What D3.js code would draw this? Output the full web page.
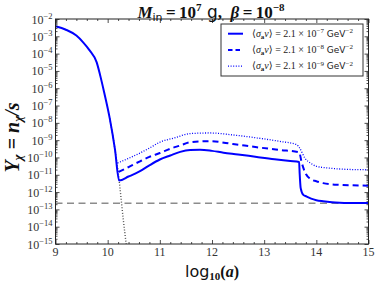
<!DOCTYPE html>
<html>
<head>
<meta charset="utf-8">
<script src="https://cdn.jsdelivr.net/npm/d3@7"></script>
<style>
  body { margin: 0; background: #fff; }
  svg { display: block; }
</style>
</head>
<body>
<div id="chart"></div>
<script>
// DATA
const xTicks = [9, 10, 11, 12, 13, 14, 15];
const yTickExps = [-2, -3, -4, -5, -6, -7, -8, -9, -10, -11, -12, -13, -14, -15];

// <sigma v> = 2.1e-7 (solid, includes the common early decline)
const solidX = [9.0, 9.2, 9.4, 9.53, 9.65, 9.79, 9.86, 9.93, 10.04, 10.14, 10.22, 10.4, 10.62, 10.8, 11.0, 11.2, 11.39, 11.58, 11.77, 12.0, 12.22, 12.5, 12.86, 13.2, 13.5, 13.67, 13.68, 13.70, 13.75, 13.81, 13.9, 14.0, 14.13, 14.3, 14.45, 14.7, 15.0];
const solidY = [3.8e-3, 2.4e-3, 1.1e-3, 4.5e-4, 1.6e-4, 3.1e-5, 5.0e-6, 6.3e-7, 1.8e-8, 2.9e-10, 4.7e-12, 7.9e-12, 1.6e-11, 3.5e-11, 7.6e-11, 1.3e-10, 2.1e-10, 2.7e-10, 2.8e-10, 2.4e-10, 1.9e-10, 1.5e-10, 1.07e-10, 7.9e-11, 6.3e-11, 5.5e-11, 1.26e-11, 1.7e-12, 6.9e-13, 5.6e-13, 4.2e-13, 3.4e-13, 2.95e-13, 2.6e-13, 2.45e-13, 2.35e-13, 2.3e-13];

// <sigma v> = 2.1e-8 (dashed)
const dashedX = [10.21, 10.4, 10.62, 10.8, 11.0, 11.2, 11.39, 11.58, 11.96, 12.4, 12.86, 13.3, 13.67, 13.72, 13.8, 13.88, 14.0, 14.13, 14.45, 14.7, 15.0];
const dashedY = [1.45e-11, 2.8e-11, 6.0e-11, 1.07e-10, 1.8e-10, 3.2e-10, 4.9e-10, 7.6e-10, 8.7e-10, 6.0e-10, 3.9e-10, 2.7e-10, 2.0e-10, 5.0e-11, 1.1e-11, 5.9e-12, 4.2e-12, 3.3e-12, 2.6e-12, 2.45e-12, 2.35e-12];

// <sigma v> = 2.1e-9 (dotted)
const dottedX = [10.19, 10.4, 10.62, 10.8, 11.0, 11.3, 11.58, 11.96, 12.4, 12.86, 13.3, 13.62, 13.68, 13.78, 13.9, 14.0, 14.2, 14.45, 14.7, 15.0];
const dottedY = [4.8e-11, 8.9e-11, 1.8e-10, 3.5e-10, 7.6e-10, 1.4e-9, 2.4e-9, 2.6e-9, 2.0e-9, 1.35e-9, 8.5e-10, 5.6e-10, 3.5e-10, 9.3e-11, 4.5e-11, 3.1e-11, 2.5e-11, 2.15e-11, 2.0e-11, 1.95e-11];

// equilibrium (gray dotted)
const eqX = [10.04, 10.14, 10.22, 10.26, 10.30, 10.355];
const eqY = [1.8e-8, 2.9e-10, 4.7e-12, 3.5e-13, 2.5e-14, 1.0e-15];

// horizontal reference level (gray dashed)
const refLevel = 2.25e-13;

const legendLabels = ["\u22127", "\u22128", "\u22129"];

// LAYOUT
const width = 380, height = 283;
const mLeft = 55.5, mRight = 368.5, mTop = 19, mBottom = 244;

const svg = d3.select("#chart").append("svg")
  .attr("width", width)
  .attr("height", height);

const x = d3.scaleLinear().domain([9, 15]).range([mLeft, mRight]);
const y = d3.scaleLog().domain([1e-15, 1e-2]).range([mBottom, mTop]);

const serif = "'Liberation Serif', 'DejaVu Serif', serif";
const sans = "'DejaVu Sans', 'Liberation Sans', sans-serif";

svg.append("defs").append("clipPath").attr("id", "plot-clip")
  .append("rect")
  .attr("x", mLeft).attr("y", mTop)
  .attr("width", mRight - mLeft).attr("height", mBottom - mTop);

const plot = svg.append("g").attr("clip-path", "url(#plot-clip)");

const line = d3.line()
  .x(d => x(d[0]))
  .y(d => y(d[1]))
  .curve(d3.curveMonotoneX);

const zip = (a, b) => a.map((v, i) => [v, b[i]]);

// reference level
plot.append("line")
  .attr("x1", mLeft).attr("x2", mRight)
  .attr("y1", y(refLevel)).attr("y2", y(refLevel))
  .attr("stroke", "#8c8c8c")
  .attr("stroke-width", 1.4)
  .attr("stroke-dasharray", "7,4.5");

// equilibrium
plot.append("path")
  .attr("d", line(zip(eqX, eqY)))
  .attr("fill", "none")
  .attr("stroke", "#555")
  .attr("stroke-width", 1.4)
  .attr("stroke-dasharray", "1,1.8");

const series = [
  { xs: solidX, ys: solidY, dash: null, w: 2 },
  { xs: dashedX, ys: dashedY, dash: "6,4", w: 2 },
  { xs: dottedX, ys: dottedY, dash: "1,1.6", w: 1.3 }
];

series.forEach(s => {
  plot.append("path")
    .attr("d", line(zip(s.xs, s.ys)))
    .attr("fill", "none")
    .attr("stroke", "#0000ff")
    .attr("stroke-width", s.w)
    .attr("stroke-dasharray", s.dash);
});

// AXES (ticks pointing inward on all sides)
const yMinor = [];
d3.range(-15, -2).forEach(e => {
  for (let m = 2; m <= 9; m++) yMinor.push(m * Math.pow(10, e));
});
const xMinor = x.ticks(30).filter(v => !xTicks.includes(v));
const yMajor = yTickExps.map(e => Math.pow(10, e));

function tickAxis(axisFn, scale, values, size, transform) {
  const g = svg.append("g")
    .attr("transform", transform)
    .call(axisFn(scale).tickValues(values).tickSize(-size).tickSizeOuter(0).tickFormat(""));
  g.select(".domain").remove();
  g.selectAll(".tick line").attr("stroke", "#222").attr("stroke-width", 0.8);
  return g;
}

tickAxis(d3.axisBottom, x, xTicks, 4, `translate(0,${mBottom})`);
tickAxis(d3.axisBottom, x, xMinor, 2, `translate(0,${mBottom})`);
tickAxis(d3.axisTop, x, xTicks, 4, `translate(0,${mTop})`);
tickAxis(d3.axisTop, x, xMinor, 2, `translate(0,${mTop})`);
tickAxis(d3.axisLeft, y, yMajor, 4, `translate(${mLeft},0)`);
tickAxis(d3.axisLeft, y, yMinor, 2, `translate(${mLeft},0)`);
tickAxis(d3.axisRight, y, yMajor, 4, `translate(${mRight},0)`);
tickAxis(d3.axisRight, y, yMinor, 2, `translate(${mRight},0)`);

// frame
svg.append("rect")
  .attr("x", mLeft).attr("y", mTop)
  .attr("width", mRight - mLeft).attr("height", mBottom - mTop)
  .attr("fill", "none")
  .attr("stroke", "#222")
  .attr("stroke-width", 1);

// x tick labels
svg.append("g").selectAll("text")
  .data(xTicks)
  .enter()
  .append("text")
  .attr("x", d => x(d))
  .attr("y", mBottom + 12)
  .attr("text-anchor", "middle")
  .style("font-family", serif)
  .style("font-size", "12px")
  .style("fill", "#333")
  .text(d => d);

// y tick labels 10^k
const yLab = svg.append("g").selectAll("text")
  .data(yTickExps)
  .enter()
  .append("text")
  .attr("x", mLeft - 3)
  .attr("y", d => y(Math.pow(10, d)) + 4.5)
  .attr("text-anchor", "end")
  .style("font-family", serif)
  .style("font-size", "12px")
  .style("fill", "#333");
yLab.append("tspan").text("10");
yLab.append("tspan")
  .attr("dy", -5)
  .style("font-size", "8.5px")
  .text(d => "\u2212" + Math.abs(d));

// TITLE
const title = svg.append("text")
  .attr("x", 211)
  .attr("y", 18)
  .attr("text-anchor", "middle")
  .style("font-family", serif)
  .style("font-weight", "bold")
  .style("font-size", "17px")
  .style("fill", "#111");
title.append("tspan").style("font-style", "italic").text("M");
title.append("tspan").attr("dy", 3).style("font-family", sans).style("font-weight", "normal").style("font-size", "11px").text("in");
title.append("tspan").attr("dy", -3).text("\u2009=\u200910");
title.append("tspan").attr("dy", -7).style("font-size", "11px").text("7");
title.append("tspan").attr("dy", 7).style("font-family", sans).style("font-weight", "normal").text(" g");
title.append("tspan").text(",\u2002");
title.append("tspan").style("font-style", "italic").text("\u03b2");
title.append("tspan").text("\u2009=\u200910");
title.append("tspan").attr("dy", -7).style("font-size", "11px").text("\u22128");

// X LABEL
const xl = svg.append("text")
  .attr("x", 212)
  .attr("y", 277)
  .attr("text-anchor", "middle")
  .style("fill", "#111");
xl.append("tspan").style("font-family", sans).style("font-size", "16px").text("log");
xl.append("tspan").attr("dy", 3).style("font-family", serif).style("font-weight", "bold").style("font-size", "11px").text("10");
xl.append("tspan").attr("dy", -3).style("font-family", serif).style("font-weight", "bold").style("font-size", "16px").text("(");
xl.append("tspan").style("font-family", serif).style("font-weight", "bold").style("font-style", "italic").style("font-size", "16px").text("a");
xl.append("tspan").style("font-family", serif).style("font-weight", "bold").style("font-size", "16px").text(")");

// Y LABEL
const yl = svg.append("text")
  .attr("transform", `translate(19,${(mTop + mBottom) / 2 + 6}) rotate(-90)`)
  .attr("text-anchor", "middle")
  .style("font-family", serif)
  .style("font-weight", "bold")
  .style("font-style", "italic")
  .style("font-size", "20px")
  .style("fill", "#111");
yl.append("tspan").text("Y");
yl.append("tspan").attr("dy", 3).style("font-size", "13px").text("\u03c7");
yl.append("tspan").attr("dy", -3).style("font-style", "normal").text(" = ");
yl.append("tspan").text("n");
yl.append("tspan").attr("dy", 3).style("font-size", "13px").text("\u03c7");
yl.append("tspan").attr("dy", -3).text("/s");

// LEGEND
const legend = svg.append("g").attr("transform", "translate(221,24)");
legend.append("rect")
  .attr("width", 142)
  .attr("height", 52)
  .attr("fill", "#fff")
  .attr("stroke", "#333")
  .attr("stroke-width", 1);

const rows = legend.selectAll("g.row")
  .data(series.map((s, i) => ({ s, lab: legendLabels[i] })))
  .enter()
  .append("g")
  .attr("transform", (d, i) => `translate(0,${9.7 + i * 16.2})`);

rows.append("line")
  .attr("x1", 7).attr("x2", 22)
  .attr("stroke", "#0000ff")
  .attr("stroke-width", d => d.s.w)
  .attr("stroke-dasharray", d => d.s.dash ? (d.s.dash === "6,4" ? "4.5,3" : d.s.dash) : null);

const lt = rows.append("text")
  .attr("x", 31)
  .attr("y", 3)
  .style("font-family", serif)
  .style("font-size", "10px")
  .style("fill", "#222");
lt.append("tspan").text("\u27e8");
lt.append("tspan").style("font-style", "italic").text("\u03c3");
lt.append("tspan").attr("dy", 2).style("font-size", "7px").style("font-weight", "bold").text("a");
lt.append("tspan").attr("dy", -2).style("font-style", "italic").text("v");
lt.append("tspan").text("\u27e9 = 2.1 \u00d7 10");
lt.append("tspan").attr("dy", -3.5).style("font-size", "7px").text(d => d.lab);
lt.append("tspan").attr("dy", 3.5).style("font-family", sans).style("font-size", "9px").text(" GeV");
lt.append("tspan").attr("dy", -3.5).style("font-size", "7px").text("\u22122");
</script>
</body>
</html>
